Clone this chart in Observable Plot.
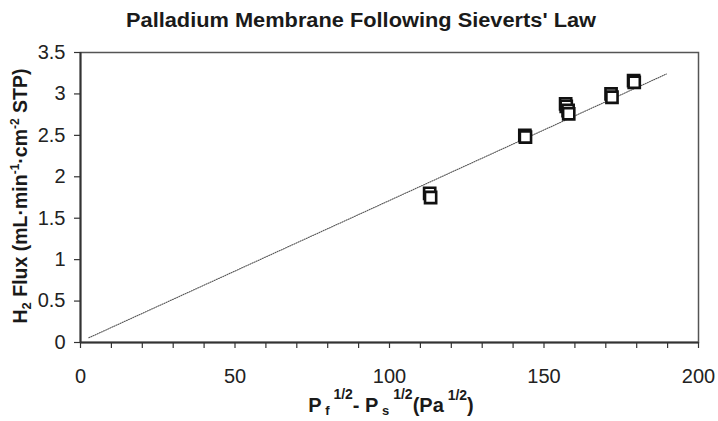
<!DOCTYPE html>
<html>
<head>
<meta charset="utf-8">
<script src="https://cdn.jsdelivr.net/npm/d3@7"></script>
<script src="https://cdn.jsdelivr.net/npm/@observablehq/plot@0.6"></script>
<style>
  html, body { margin: 0; padding: 0; background: #fff; }
  #chart svg { display: block; }
</style>
</head>
<body>
<div id="chart"></div>
<script>
// Measured points (pressure-driving-force vs H2 flux)
const drivingForce = [113.0, 113.3, 143.8, 144.0, 157.0, 157.2, 157.8, 158.0, 171.7, 172.0, 179.0, 179.2];
const h2Flux       = [1.80, 1.75, 2.50, 2.48, 2.88, 2.85, 2.80, 2.76, 3.00, 2.96, 3.16, 3.14];

// Linear fit line endpoints
const fitX = [2.7, 189.6];
const fitY = [0.057, 3.24];

// Axis ticks
const xMajorTicks = [0, 50, 100, 150, 200];
const xMinorTicks = d3.range(0, 201, 10);
const yTicks = [0, 0.5, 1, 1.5, 2, 2.5, 3, 3.5];

const title = "Palladium Membrane Following Sieverts' Law";

const points = drivingForce.map((x, i) => ({x, y: h2Flux[i]}));
const fit = fitX.map((x, i) => ({x, y: fitY[i]}));

const W = 718, H = 421;
const font = "'Liberation Sans', Arial, sans-serif";
const plot = Plot.plot({
  width: W,
  height: H,
  marginLeft: 80,
  marginRight: 20,
  marginTop: 52,
  marginBottom: 79,
  style: {fontFamily: font, color: "#222", background: "#fff"},
  x: {domain: [0, 200]},
  y: {domain: [0, 3.5]},
  marks: [
    Plot.frame({stroke: "#555", strokeWidth: 1.5}),
    Plot.axisX({ticks: xMinorTicks, tickSize: 6, tickPadding: 20, fontSize: 20, stroke: "#333", strokeWidth: 1.2,
      tickFormat: d => xMajorTicks.includes(d) ? String(d) : "", label: null}),
    Plot.axisY({ticks: yTicks, tickSize: 6, tickPadding: 9, fontSize: 20, stroke: "#333", strokeWidth: 1.2,
      tickFormat: d => String(+d.toFixed(1)), label: null}),
    Plot.ruleY([0], {stroke: "#333", strokeWidth: 2}),
    Plot.ruleX([0], {stroke: "#333", strokeWidth: 2}),
    Plot.line(fit, {x: "x", y: "y", stroke: "#555", strokeWidth: 1.1, strokeDasharray: "1,1.3"}),
    Plot.dot(points, {x: "x", y: "y", symbol: "square", r: 6.3, stroke: "#111", strokeWidth: 2.6, fill: "#fff"})
  ]
});
document.getElementById("chart").appendChild(plot);

const svg = d3.select(plot);

// Title
svg.append("text")
  .attr("x", 361).attr("y", 27)
  .attr("text-anchor", "middle")
  .attr("font-family", font).attr("font-weight", "bold").attr("font-size", 20)
  .attr("textLength", 470).attr("lengthAdjust", "spacingAndGlyphs")
  .attr("fill", "#1a1a1a")
  .text(title);

// X label with sub/superscripts
const xl = svg.append("text")
  .attr("x", 391).attr("y", 412)
  .attr("text-anchor", "middle")
  .attr("font-family", font).attr("font-weight", "bold").attr("font-size", 20)
  .attr("fill", "#1a1a1a")
  .attr("xml:space", "preserve");
const xParts = [
  // text, dy (relative shift), font size
  ["P", 0, 20], [" f", 3, 13], [" 1/2", -16, 14], ["- P", 13, 20], [" s", 3, 13], [" 1/2", -16, 14],
  ["(Pa", 13, 20], [" 1/2", -12, 14], [")", 12, 20]
];
xParts.forEach(([t, dy, fs]) => xl.append("tspan").attr("dy", dy).attr("font-size", fs).text(t));

// Y label
const yl = svg.append("text")
  .attr("transform", "translate(27,196) rotate(-90)")
  .attr("text-anchor", "middle")
  .attr("font-family", font).attr("font-weight", "bold").attr("font-size", 19.5)
  .attr("fill", "#1a1a1a");
const yParts = [
  ["H", 0, 19.5], ["2", 4, 13], [" Flux (mL·min", -4, 19.5], ["-1", -8, 12], ["·cm", 8, 19.5], ["-2", -8, 12], [" STP)", 8, 19.5]
];
yParts.forEach(([t, dy, fs]) => yl.append("tspan").attr("dy", dy).attr("font-size", fs).text(t));
</script>
</body>
</html>
